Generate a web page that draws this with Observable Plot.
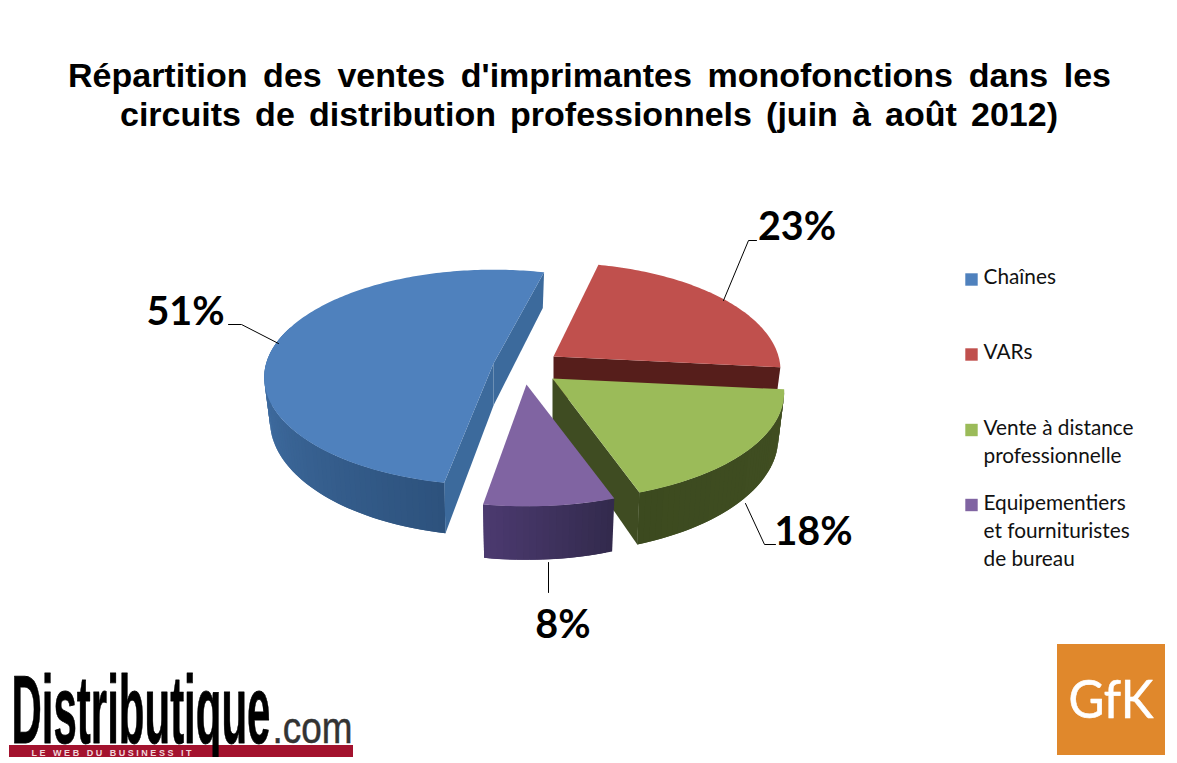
<!DOCTYPE html>
<html lang="fr"><head><meta charset="utf-8">
<script src="https://cdn.jsdelivr.net/npm/d3@7"></script>
<script src="https://cdn.jsdelivr.net/npm/@observablehq/plot@0.6"></script>
<style>
html,body{margin:0;padding:0;background:#fff;overflow:hidden}
#title{position:relative;height:150px;font:bold 34px "Liberation Sans",Arial,sans-serif;color:#000}
#title div{position:absolute;text-align:justify;text-align-last:justify}
</style></head><body>
<div id="title">
<div style="left:68px;width:1043px;top:56px">Répartition des ventes d'imprimantes monofonctions dans les</div>
<div style="left:120px;width:938px;top:95px">circuits de distribution professionnels (juin à août 2012)</div>
</div>
<div id="chart"></div>
<script>
// ---- data
const categories = ["Chaînes", "VARs", "Vente à distance professionnelle", "Equipementiers et fournituristes de bureau"];
const values = [51, 23, 18, 8];
const percentLabels = ["51%", "23%", "18%", "8%"];
const legendLines = [["Chaînes"], ["VARs"], ["Vente à distance", "professionnelle"], ["Equipementiers", "et fournituristes", "de bureau"]];

// ---- styles and layout
const topColors = ["#4f81bd", "#c0504d", "#9bbb59", "#8064a2"];
const wallLight = ["#4778b0", "#5a1f1c", "#414f22", "#4c3a70"];
const wallDark = ["#2d527d", "#5a1f1c", "#3c4a1f", "#322a4c"];
const cutColors = ["#3c6a9c", "#561e1b", "#3f4c22", "#3f3060"];
const apexX = [493, 553, 552, 526];
const apexY = [363, 356, 378, 384];
const sizeScale = [0.98, 0.97, 0.99, 1];
const rotateDeg = [1.5, 0, 0, 0];
const wallDepth = [42, 42, 44, 45];
const legendY = [283.5, 358.5, 434.5, 509.5];
const squareY = [279, 354, 429.5, 504.5];
const labelX = [185, 796.5, 813, 562.5];
const labelY = [324, 239, 544, 637];
const leaderXs = [[228, 241, 278], [756, 748, 723], [775, 764, 745], [548, 548]];
const leaderYs = [[324, 324, 343], [240, 240, 300], [544, 544, 503], [562, 592]];

const rx = 232, ry = 106, persp = 0.13;
const startDeg = 13;

// slice boundaries, clockwise from the Chaînes / VARs cut
const total = d3.sum(values);
const order = [1, 2, 3, 0];
const bounds = [];
{ let a = startDeg; for (const i of order) { bounds[i] = [a + rotateDeg[i], a + rotateDeg[i] + values[i] / total * 360]; a += values[i] / total * 360; } }

function project(i, deg, r, bottom) {
  const a = deg * Math.PI / 180, u = r * Math.sin(a), v = r * Math.cos(a), s = 1 / (1 + persp * v);
  let dx = sizeScale[i] * rx * u * s, dy = -ry * v * s;
  if (bottom) { dx *= 0.975; dy = dy * 1.07 + wallDepth[i]; }
  return [apexX[i] + dx, apexY[i] + dy];
}
const rows = [];
let nextId = 0;
function poly(points, fill) { const id = nextId++; for (const [x, y] of points) rows.push({id, x, y, fill}); }
function wall(i, from, to, colorAt) {
  const n = Math.ceil(Math.abs(to - from) / 1.5);
  for (let j = 0; j < n; j++) {
    const a = from + (to - from) * j / n, b = from + (to - from) * Math.min(j + 2, n) / n;
    poly([project(i, a, 1), project(i, b, 1), project(i, b, 1, true), project(i, a, 1, true)], colorAt((j + 0.5) / n));
  }
}
function cut(i, deg, fill) {
  poly([project(i, deg, 0), project(i, deg, 1), project(i, deg, 1, true), project(i, deg, 0, true)], fill);
}
function face(i) {
  const [a, b] = bounds[i], pts = [project(i, a, 0)], n = Math.ceil((b - a) / 1);
  for (let j = 0; j <= n; j++) pts.push(project(i, a + (b - a) * j / n, 1));
  poly(pts, topColors[i]);
}
const grad = i => d3.interpolateRgb(wallDark[i], wallLight[i]);
// VARs (back)
cut(1, bounds[1][1], cutColors[1]); face(1);
// Chaînes
{ const [a, b] = bounds[0];
  cut(0, b, cutColors[0]); wall(0, a + 100, a, t => grad(0)(1 - t)); cut(0, a, cutColors[0]); face(0); }
// Vente à distance
{ const [a, b] = bounds[2];
  wall(2, a, b, t => grad(2)(1 - t)); cut(2, b, cutColors[2]); face(2); }
// Equipementiers
{ const [a, b] = bounds[3];
  wall(3, a, b, t => grad(3)(t)); face(3); }

const legendRows = legendLines.flatMap((lines, i) => lines.map((text, j) => ({text, x: 983, y: legendY[i] + j * 28})));
const leaderRows = leaderXs.flatMap((xs, i) => xs.map((x, j) => ({i, x, y: leaderYs[i][j]})));

const chart = Plot.plot({
  width: 1177, height: 613, margin: 0,
  x: {domain: [0, 1177], range: [0, 1177], axis: null},
  y: {domain: [150, 763], range: [0, 613], axis: null},
  style: {background: "#fff", overflow: "visible"},
  marks: [
    Plot.line(rows, {x: "x", y: "y", z: "id", fill: "fill", stroke: "none", curve: "linear-closed"}),
    Plot.line(leaderRows, {x: "x", y: "y", z: "i", stroke: "#000", strokeWidth: 1}),
    Plot.text(percentLabels, {x: (d, i) => labelX[i], y: (d, i) => labelY[i], text: d => d, fontFamily: "Lato", fontWeight: 700, fontSize: 39.5, fill: "#000", lineAnchor: "bottom"}),
    Plot.dot(categories, {x: 971, y: (d, i) => squareY[i], symbol: "square", r: 7, fill: (d, i) => topColors[i], stroke: "none"}),
    Plot.text(legendRows, {x: "x", y: "y", text: "text", textAnchor: "start", lineAnchor: "bottom", fontFamily: "Lato", fontSize: 20.8, fill: "#111"}),
    // logos
    Plot.rect([0], {x1: 9, x2: 353, y1: 745, y2: 757, fill: "#a3122e"}),
    Plot.text(["LE WEB DU BUSINESS IT"], {x: 31, y: 755, text: d => d, textAnchor: "start", lineAnchor: "bottom", fontFamily: "Liberation Sans", fontWeight: 700, fontSize: 9, fill: "#f0d8dc", className: "tagline"}),
    Plot.text(["Distributique"], {x: 11, y: 742, text: d => d, textAnchor: "start", lineAnchor: "bottom", fontFamily: "Liberation Sans", fontWeight: 700, fontSize: 96, fill: "#000", stroke: "#000", strokeWidth: 0.8, className: "brand"}),
    Plot.rect([0], {x1: 200, x2: 260, y1: 757, y2: 763, fill: "#fff"}),
    Plot.text([".com"], {x: 272, y: 742, text: d => d, textAnchor: "start", lineAnchor: "bottom", fontFamily: "Liberation Sans", fontSize: 44, fill: "#333", stroke: "#333", strokeWidth: 0.5, className: "dotcom"}),
    Plot.rect([0], {x1: 1057, x2: 1165, y1: 644, y2: 755, fill: "#e0882c"}),
    Plot.text(["GfK"], {x: 1110.5, y: 717, text: d => d, lineAnchor: "bottom", fontFamily: "Lato", fontSize: 52, fill: "#fff", stroke: "#fff", strokeWidth: 0.6, className: "gfk"})
  ]
});
document.getElementById("chart").append(chart);
// squeeze the logo words horizontally, keeping their left edge or centre in place
function squeeze(cls, len) {
  d3.select(chart).selectAll(`.${cls} text`).each(function () {
    const k = len / this.getComputedTextLength(), base = this.getAttribute("transform") || "";
    this.setAttribute("transform", `${base} scale(${k},1)`);
  });
}
squeeze("brand", 259); squeeze("dotcom", 80); squeeze("gfk", 85);
d3.select(chart).selectAll(".tagline text").attr("textLength", 160).attr("lengthAdjust", "spacing");
</script>
</body></html>
